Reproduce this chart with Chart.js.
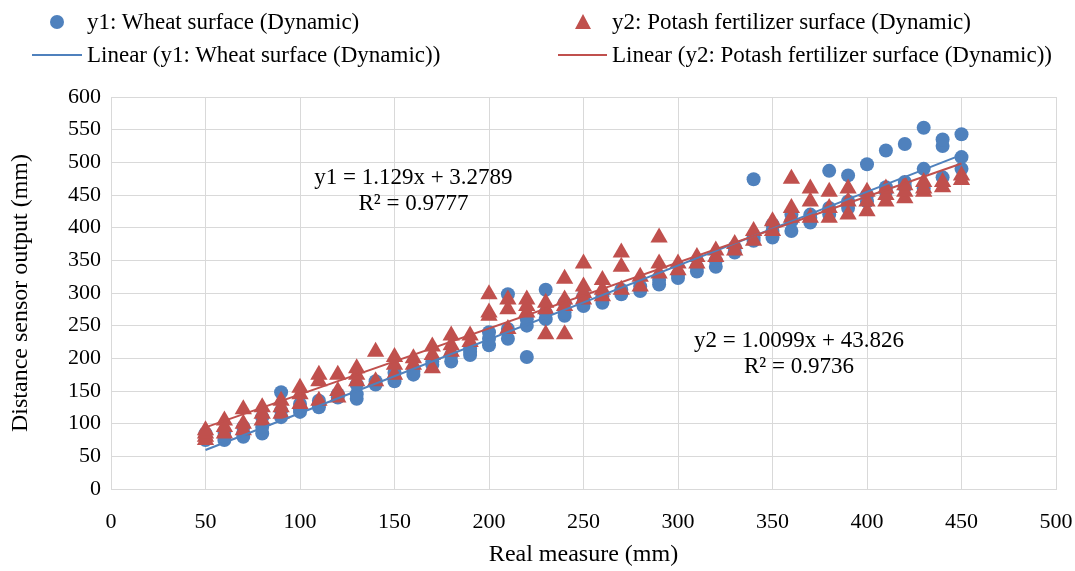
<!DOCTYPE html>
<html>
<head>
<meta charset="utf-8">
<script src="https://cdn.jsdelivr.net/npm/chart.js@4"></script>
<style>
  body { margin: 0; background: #fff; font-family: "Liberation Serif", "Times New Roman", serif; }
  #wrap { position: relative; width: 1075px; height: 571px; }
  .leg { position: absolute; font-size: 23px; color: #000; white-space: nowrap; line-height: 26px; }
  .dot { position: absolute; width: 14px; height: 14px; border-radius: 50%; background: #4F81BD; }
  .tri { position: absolute; width: 0; height: 0; border-left: 8.5px solid transparent; border-right: 8.5px solid transparent; border-bottom: 15px solid #C0504D; }
  .ln { position: absolute; height: 2px; }
</style>
</head>
<body>
<div id="wrap">
  <canvas id="grafico" width="1075" height="571"></canvas>
  <div class="dot" style="left:50px; top:15px;"></div>
  <div class="leg" style="left:87px; top:9px;">y1: Wheat surface (Dynamic)</div>
  <div class="tri" style="left:575px; top:14px;"></div>
  <div class="leg" style="left:612px; top:9px;">y2: Potash fertilizer surface (Dynamic)</div>
  <div class="ln" style="left:32px; top:54px; width:50px; background:#4F81BD;"></div>
  <div class="leg" style="left:87px; top:42px;">Linear (y1: Wheat surface (Dynamic))</div>
  <div class="ln" style="left:558px; top:54px; width:49px; background:#C0504D;"></div>
  <div class="leg" style="left:612px; top:42px;">Linear (y2: Potash fertilizer surface (Dynamic))</div>
</div>
<script>
// valores: cada x tem varias leituras
const medidasX = [50, 60, 70, 80, 90, 100, 110, 120, 130, 140, 150, 160, 170, 180, 190, 200, 210, 220, 230, 240,
                  250, 260, 270, 280, 290, 300, 310, 320, 330, 340, 350, 360, 370, 380, 390, 400, 410, 420, 430, 440, 450];

const trigoY1 = [
  [75, 80, 85], [75, 80, 88], [80, 85, 95], [85, 95, 110], [110, 120, 148],
  [118, 122, 130], [125, 130, 135], [140, 145], [138, 145, 160], [160, 165],
  [165, 170, 178], [175, 180], [190, 195], [195, 205], [205, 210, 215],
  [220, 230, 240], [230, 245, 298], [202, 250, 260], [260, 270, 305], [265, 270, 285],
  [280, 285, 295], [285, 295], [298, 305], [303, 310], [313, 320],
  [323, 328], [333, 340], [340, 350], [362, 370], [380, 385, 474],
  [385, 395, 405], [395, 410, 420], [408, 415, 420], [420, 430, 487], [430, 440, 480],
  [440, 450, 497], [455, 462, 518], [462, 470, 528], [460, 490, 553], [477, 525, 535],
  [490, 508, 543]
];

const potassioY2 = [
  [75, 80, 85, 90], [85, 95, 105], [90, 100, 122], [105, 115, 125], [115, 125, 135],
  [130, 145, 155], [135, 165, 175], [140, 150, 175], [165, 175, 185], [165, 210],
  [175, 190, 202], [190, 200], [185, 205, 218], [210, 220, 235], [225, 235],
  [265, 270, 298], [245, 275, 290], [270, 280, 290], [237, 275, 285], [237, 280, 290, 322],
  [290, 300, 310, 345], [295, 305, 320], [305, 340, 362], [310, 325], [330, 345, 385],
  [335, 345], [345, 355], [355, 365], [365, 375], [380, 395],
  [395, 410], [415, 430, 475], [415, 440, 460], [415, 430, 455], [420, 440, 460],
  [425, 440, 455], [440, 450, 460], [445, 455, 465], [455, 460, 470], [462, 470],
  [473, 480]
];

// linhas de tendencia (equacoes mostradas no grafico)
const tendenciaY1 = { a: 1.129, b: 3.2789 };
const tendenciaY2 = { a: 1.0099, b: 43.826 };
const faixaTendencia = [50, 450];

const ticksX = [0, 50, 100, 150, 200, 250, 300, 350, 400, 450, 500];
const ticksY = [0, 50, 100, 150, 200, 250, 300, 350, 400, 450, 500, 550, 600];

const textosEquacao = [
  { linhas: ["y1 = 1.129x + 3.2789", "R² = 0.9777"], x: 160, y: [476, 436] },
  { linhas: ["y2 = 1.0099x + 43.826", "R² = 0.9736"], x: 364, y: [226, 187] }
];

function pontos(serie) {
  let lista = [];
  serie.forEach((valores, i) => {
    valores.forEach(v => lista.push({ x: medidasX[i], y: v }));
  });
  return lista;
}

function linha(t) {
  return faixaTendencia.map(x => ({ x: x, y: t.a * x + t.b }));
}

const fonte = "'Liberation Serif', 'Times New Roman', serif";

const pluginEquacoes = {
  id: 'equacoes',
  afterDatasetsDraw(chart) {
    const ctx = chart.ctx;
    const sx = chart.scales.x, sy = chart.scales.y;
    ctx.save();
    ctx.font = "23px " + fonte;
    ctx.fillStyle = "#000";
    ctx.textAlign = "center";
    ctx.textBaseline = "middle";
    textosEquacao.forEach(t => {
      t.linhas.forEach((txt, k) => {
        ctx.fillText(txt, sx.getPixelForValue(t.x), sy.getPixelForValue(t.y[k]));
      });
    });
    ctx.restore();
  }
};

const ctx = document.getElementById('grafico').getContext('2d');
const grafico = new Chart(ctx, {
  type: 'scatter',
  data: {
    datasets: [
      {
        label: 'y1: Wheat surface (Dynamic)',
        data: pontos(trigoY1),
        pointStyle: 'circle',
        pointRadius: 7,
        pointBorderWidth: 0,
        backgroundColor: '#4F81BD',
        borderColor: '#4F81BD',
        order: 3
      },
      {
        label: 'y2: Potash fertilizer surface (Dynamic)',
        data: pontos(potassioY2),
        pointStyle: 'triangle',
        pointRadius: 10,
        pointBorderWidth: 0,
        backgroundColor: '#C0504D',
        borderColor: '#C0504D',
        order: 2
      },
      {
        type: 'line',
        label: 'Linear (y1: Wheat surface (Dynamic))',
        data: linha(tendenciaY1),
        borderColor: '#4F81BD',
        borderWidth: 2,
        pointRadius: 0,
        fill: false,
        order: 1
      },
      {
        type: 'line',
        label: 'Linear (y2: Potash fertilizer surface (Dynamic))',
        data: linha(tendenciaY2),
        borderColor: '#C0504D',
        borderWidth: 2,
        pointRadius: 0,
        fill: false,
        order: 0
      }
    ]
  },
  options: {
    responsive: false,
    animation: false,
    layout: { padding: { left: 0, right: 19, top: 97, bottom: 0 } },
    plugins: {
      legend: { display: false },
      tooltip: { enabled: false }
    },
    scales: {
      x: {
        type: 'linear',
        min: 0,
        max: 500,
        afterBuildTicks: s => { s.ticks = ticksX.map(v => ({ value: v })); },
        afterFit: s => { s.height = 82; s.paddingRight = 0; s.paddingLeft = 0; },
        grid: { color: '#d9d9d9', lineWidth: 1, drawTicks: false },
        border: { color: '#d9d9d9' },
        ticks: { color: '#000', font: { family: fonte, size: 22 }, padding: 20, maxRotation: 0 },
        title: { display: true, text: 'Real measure (mm)', color: '#000', font: { family: fonte, size: 24 }, padding: { top: 0, bottom: 2 } }
      },
      y: {
        type: 'linear',
        min: 0,
        max: 600,
        afterBuildTicks: s => { s.ticks = ticksY.map(v => ({ value: v })); },
        afterFit: s => { s.width = 111; s.paddingTop = 0; s.paddingBottom = 0; },
        grid: { color: '#d9d9d9', lineWidth: 1, drawTicks: false },
        border: { color: '#d9d9d9' },
        ticks: { color: '#000', font: { family: fonte, size: 22 }, padding: 10 },
        title: { display: true, text: 'Distance sensor output (mm)', color: '#000', font: { family: fonte, size: 24 }, padding: { top: 6, bottom: 0 } }
      }
    }
  },
  plugins: [pluginEquacoes]
});
</script>
</body>
</html>
